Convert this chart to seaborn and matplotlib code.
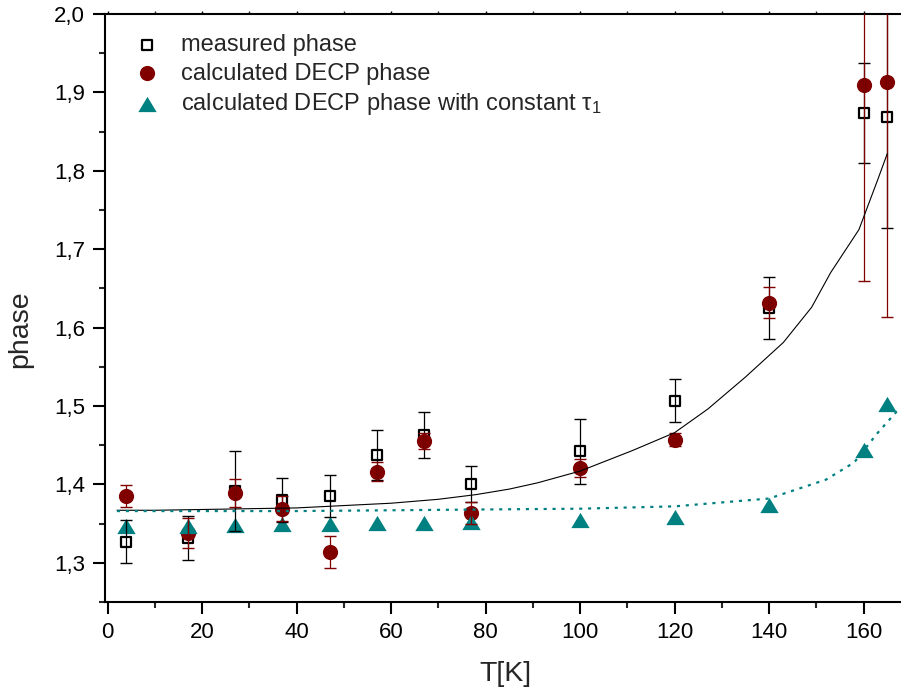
import matplotlib
matplotlib.use("Agg")
import matplotlib.pyplot as plt
from matplotlib.path import Path
from matplotlib.ticker import FixedLocator, FixedFormatter, MultipleLocator
import seaborn as sns

sns.set_style("ticks")
plt.rcParams["font.family"] = ["Liberation Sans", "DejaVu Sans"]
plt.rcParams["mathtext.fontset"] = "custom"
plt.rcParams["mathtext.rm"] = "Liberation Sans"
plt.rcParams["mathtext.it"] = "Liberation Sans:italic"

# ---- data ----
T = [4, 17, 27, 37, 47, 57, 67, 77, 100, 120, 140, 160, 165]
measured = [1.327, 1.332, 1.392, 1.380, 1.385, 1.438, 1.463, 1.401, 1.442, 1.507, 1.625, 1.874, 1.869]
measured_err = [0.027, 0.028, 0.051, 0.028, 0.027, 0.032, 0.029, 0.023, 0.041, 0.027, 0.040, 0.064, 0.142]
calc = [1.385, 1.338, 1.389, 1.369, 1.314, 1.416, 1.455, 1.364, 1.421, 1.457, 1.632, 1.909, 1.913]
calc_err = [0.014, 0.019, 0.018, 0.016, 0.020, 0.012, 0.010, 0.014, 0.012, 0.008, 0.020, 0.250, 0.300]
const_tau = [1.347, 1.347, 1.348, 1.349, 1.349, 1.351, 1.351, 1.352, 1.355, 1.359, 1.374, 1.444, 1.502]

fit_T = [2, 10, 20, 30, 40, 50, 60, 70, 78, 85, 91, 100, 111, 120, 127, 135, 143, 149, 153, 159, 163, 165]
fit_y = [1.367, 1.367, 1.368, 1.369, 1.370, 1.373, 1.376, 1.381, 1.387, 1.394, 1.402, 1.417, 1.443,
         1.466, 1.496, 1.537, 1.581, 1.626, 1.670, 1.725, 1.789, 1.822]
fit2_T = [2, 20, 40, 60, 79, 100, 120, 140, 152, 158, 163, 167, 168]
fit2_y = [1.366, 1.366, 1.366, 1.367, 1.368, 1.369, 1.372, 1.382, 1.406, 1.428, 1.466, 1.493, 1.497]

xticks = [0, 20, 40, 60, 80, 100, 120, 140, 160]
yticks = [1.3, 1.4, 1.5, 1.6, 1.7, 1.8, 1.9, 2.0]
ytick_labels = ["1,3", "1,4", "1,5", "1,6", "1,7", "1,8", "1,9", "2,0"]

labels = ["measured phase", "calculated DECP phase",
          r"calculated DECP phase with constant $\mathrm{\tau}_{1}$"]

MAROON = "#800000"
TEAL = "#008080"

W, H = 901, 694
fig = plt.figure(figsize=(W / 100, H / 100), dpi=100)
ax = fig.add_axes([105 / W, 92 / H, (W - 105) / W, 588 / H])

tri = Path([(0, 0.83), (-1, -0.83), (1, -0.83), (0, 0.83)],
           [Path.MOVETO, Path.LINETO, Path.LINETO, Path.CLOSEPOLY])

sns.scatterplot(x=T, y=measured, ax=ax, marker="s", s=60, facecolor="white",
                edgecolor="black", linewidth=1.6, label=labels[0], zorder=3)
sns.scatterplot(x=T, y=calc, ax=ax, marker="o", s=120, color=MAROON,
                edgecolor=MAROON, linewidth=0, label=labels[1], zorder=4)
sns.scatterplot(x=T, y=const_tau, ax=ax, marker=tri, s=175, color=TEAL,
                edgecolor=TEAL, linewidth=0, label=labels[2], zorder=5)

ax.errorbar(T, measured, yerr=measured_err, fmt="none", ecolor="black",
            elinewidth=0.9, capsize=4.2, capthick=1.0, zorder=6)
ax.errorbar(T, calc, yerr=calc_err, fmt="none", ecolor=MAROON,
            elinewidth=0.9, capsize=4.2, capthick=1.0, zorder=6)

sns.lineplot(x=fit_T, y=fit_y, ax=ax, color="black", linewidth=0.8,
             estimator=None, sort=False, zorder=7)
sns.lineplot(x=fit2_T, y=fit2_y, ax=ax, color=TEAL, linewidth=1.6,
             linestyle=(0, (1.4, 2.6)), estimator=None, sort=False, zorder=7)

ax.set_xlim(-0.53, 167.9)
ax.set_ylim(1.25, 2.0)

ax.xaxis.set_major_locator(FixedLocator(xticks))
ax.xaxis.set_minor_locator(MultipleLocator(10))
ax.yaxis.set_major_locator(FixedLocator(yticks))
ax.yaxis.set_major_formatter(FixedFormatter(ytick_labels))
ax.yaxis.set_minor_locator(MultipleLocator(0.05))

for sp in ["left", "bottom", "top"]:
    ax.spines[sp].set_linewidth(1.5)
    ax.spines[sp].set_color("black")
ax.spines["right"].set_visible(False)

ax.tick_params(axis="both", which="major", direction="out", length=8.5, width=1.5,
               labelsize=16, pad=6, colors="black")
ax.tick_params(axis="both", which="minor", direction="out", length=4.5, width=1.5)
ax.tick_params(axis="x", which="both", top=True, labeltop=False)
# small gray ticks on the top spine
for tl in ax.xaxis.get_majorticklines()[1::2] + ax.xaxis.get_minorticklines()[1::2]:
    tl.set_markersize(2)
    tl.set_color("#999999")
    tl.set_markeredgewidth(1)

ax.set_xlabel("T[K]", fontsize=20.5)
ax.set_ylabel("phase", fontsize=20.5)
ax.xaxis.set_label_coords(0.5025, -0.100)
ax.yaxis.set_label_coords(-0.0905, 0.464)

ax.legend(loc="upper left", bbox_to_anchor=(0.0377, 0.966), frameon=False,
          fontsize=17, borderpad=0, borderaxespad=0, labelspacing=0.28,
          handlelength=1.0, handletextpad=0.95)

fig.savefig("out.png", dpi=100)
